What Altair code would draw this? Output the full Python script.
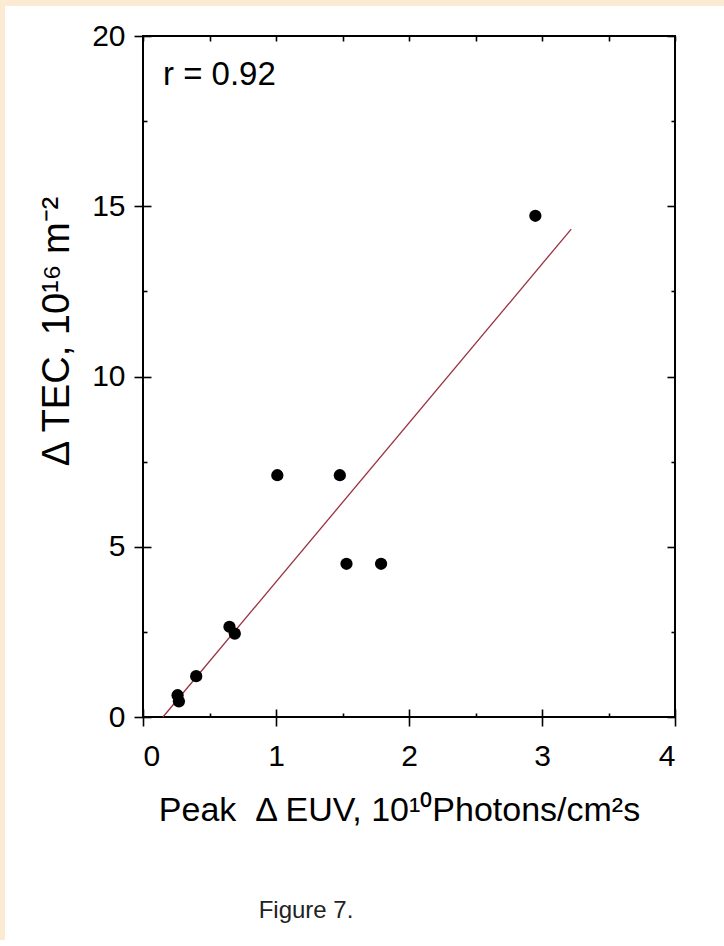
import altair as alt
import pandas as pd

# ---- data ----
euv = [0.26, 0.27, 0.40, 0.65, 0.69, 1.01, 1.48, 1.53, 1.79, 2.95]
tec = [0.64, 0.46, 1.20, 2.65, 2.45, 7.10, 7.10, 4.50, 4.50, 14.72]
fit_euv = [0.15, 3.22]
fit_tec = [0.0, 14.33]
x_major = [0, 1, 2, 3, 4]
x_minor = [0.5, 1.5, 2.5, 3.5]
x_top = [0, 0.5, 1, 1.5, 2, 2.5, 3, 3.5, 4]
y_major = [0, 5, 10, 15, 20]
y_minor = [2.5, 7.5, 12.5, 17.5]
annotation = ["r = 0.92"]
caption = ["Figure 7."]
x_title = "Peak\u00a0\u00a0\u0394 EUV, 10\u00b9\u2070Photons/cm\u00b2s"
y_title = "\u0394 TEC, 10\u00b9\u2076 m\u207b\u00b2"

FONT = "Liberation Sans, Arial, Helvetica, sans-serif"
CREAM = "#FAEBD2"
W, H = 532, 681

pts = pd.DataFrame({"euv": euv, "tec": tec})
fit = pd.DataFrame({"euv": fit_euv, "tec": fit_tec})
one = pd.DataFrame({"k": [0]})

xs = alt.Scale(domain=[0, 4], nice=False, zero=False)
ys = alt.Scale(domain=[0, 20], nice=False, zero=False)

common = dict(domain=False, grid=False, tickColor="black", tickWidth=1.6,
              labelFont=FONT, labelFontSize=30, labelColor="black", zindex=1)


def ax(**kw):
    d = dict(common)
    d.update(kw)
    return alt.Axis(**d)


# main axes: labels + outward part of major ticks
x_main = ax(orient="bottom", values=x_major, tickSize=9, labelPadding=15, format="d",
            title=x_title, titleFont=FONT, titleFontSize=34, titleFontWeight="normal",
            titleColor="black", titleX=256, titleY=103, titleBaseline="alphabetic",
            titleAlign="center")
y_main = ax(orient="left", values=y_major, tickSize=9, labelPadding=9, format="d",
            labelBaseline="middle",
            title=y_title, titleFont=FONT, titleFontSize=38, titleFontWeight="normal",
            titleColor="black", titleX=-75, titleY=295, titleBaseline="alphabetic",
            titleAlign="center", titleAngle=270)

# inward part of major ticks
x_in = ax(orient="bottom", values=x_major, tickSize=8, offset=-8, labels=False, title=None)
y_in = ax(orient="left", values=y_major, tickSize=8, offset=-8, labels=False, title=None)
# inward minor ticks
x_min = ax(orient="bottom", values=x_minor, tickSize=4, offset=-4, labels=False, title=None)
y_min = ax(orient="left", values=y_minor, tickSize=4, offset=-4, labels=False, title=None)
# top and right mirror ticks (inward)
x_topax = ax(orient="top", values=x_top, tickSize=5, offset=-5, labels=False, title=None)
y_right = ax(orient="right", values=y_major, tickSize=8, offset=-8, labels=False, title=None)
y_right_min = ax(orient="right", values=y_minor, tickSize=4, offset=-4, labels=False, title=None)

top_strip = alt.Chart(one).mark_rect(color=CREAM).encode(
    x=alt.value(-143), x2=alt.value(W + 49), y=alt.value(-36), y2=alt.value(-30))
left_strip = alt.Chart(one).mark_rect(color=CREAM).encode(
    x=alt.value(-143), x2=alt.value(-138), y=alt.value(-36), y2=alt.value(H + 223))

points = alt.Chart(pts).mark_circle(size=150, color="black", opacity=1).encode(
    x=alt.X("euv:Q", scale=xs, axis=x_main),
    y=alt.Y("tec:Q", scale=ys, axis=y_main),
)

line = alt.Chart(fit).mark_line(color="#9A3040", strokeWidth=1.3).encode(
    x=alt.X("euv:Q", scale=xs, axis=x_in),
    y=alt.Y("tec:Q", scale=ys, axis=y_in),
)

minor = alt.Chart(pts).mark_point(opacity=0).encode(
    x=alt.X("euv:Q", scale=xs, axis=x_min),
    y=alt.Y("tec:Q", scale=ys, axis=y_min),
)

mirror = alt.Chart(pts).mark_point(opacity=0).encode(
    x=alt.X("euv:Q", scale=xs, axis=x_topax),
    y=alt.Y("tec:Q", scale=ys, axis=y_right),
)

mirror2 = alt.Chart(pts).mark_point(opacity=0).encode(
    x=alt.X("euv:Q", scale=xs, axis=None),
    y=alt.Y("tec:Q", scale=ys, axis=y_right_min),
)

ann = alt.Chart(pd.DataFrame({"t": annotation})).mark_text(
    font=FONT, fontSize=33, color="black", align="left", baseline="alphabetic"
).encode(x=alt.value(20), y=alt.value(49), text="t:N")

cap = alt.Chart(pd.DataFrame({"t": caption})).mark_text(
    font=FONT, fontSize=24, color="#222222", align="center", baseline="alphabetic"
).encode(x=alt.value(163), y=alt.value(882), text="t:N")

chart = alt.layer(
    top_strip, left_strip, line, points, minor, mirror, mirror2, ann, cap
).resolve_axis(
    x="independent", y="independent"
).properties(
    width=W, height=H,
    autosize=alt.AutoSizeParams(type="none"),
    padding={"left": 143, "top": 36, "right": 49, "bottom": 223},
    background="white",
).configure_view(stroke="black", strokeWidth=2)

chart.save("out.html", embed_options={"renderer": "svg", "actions": False})
